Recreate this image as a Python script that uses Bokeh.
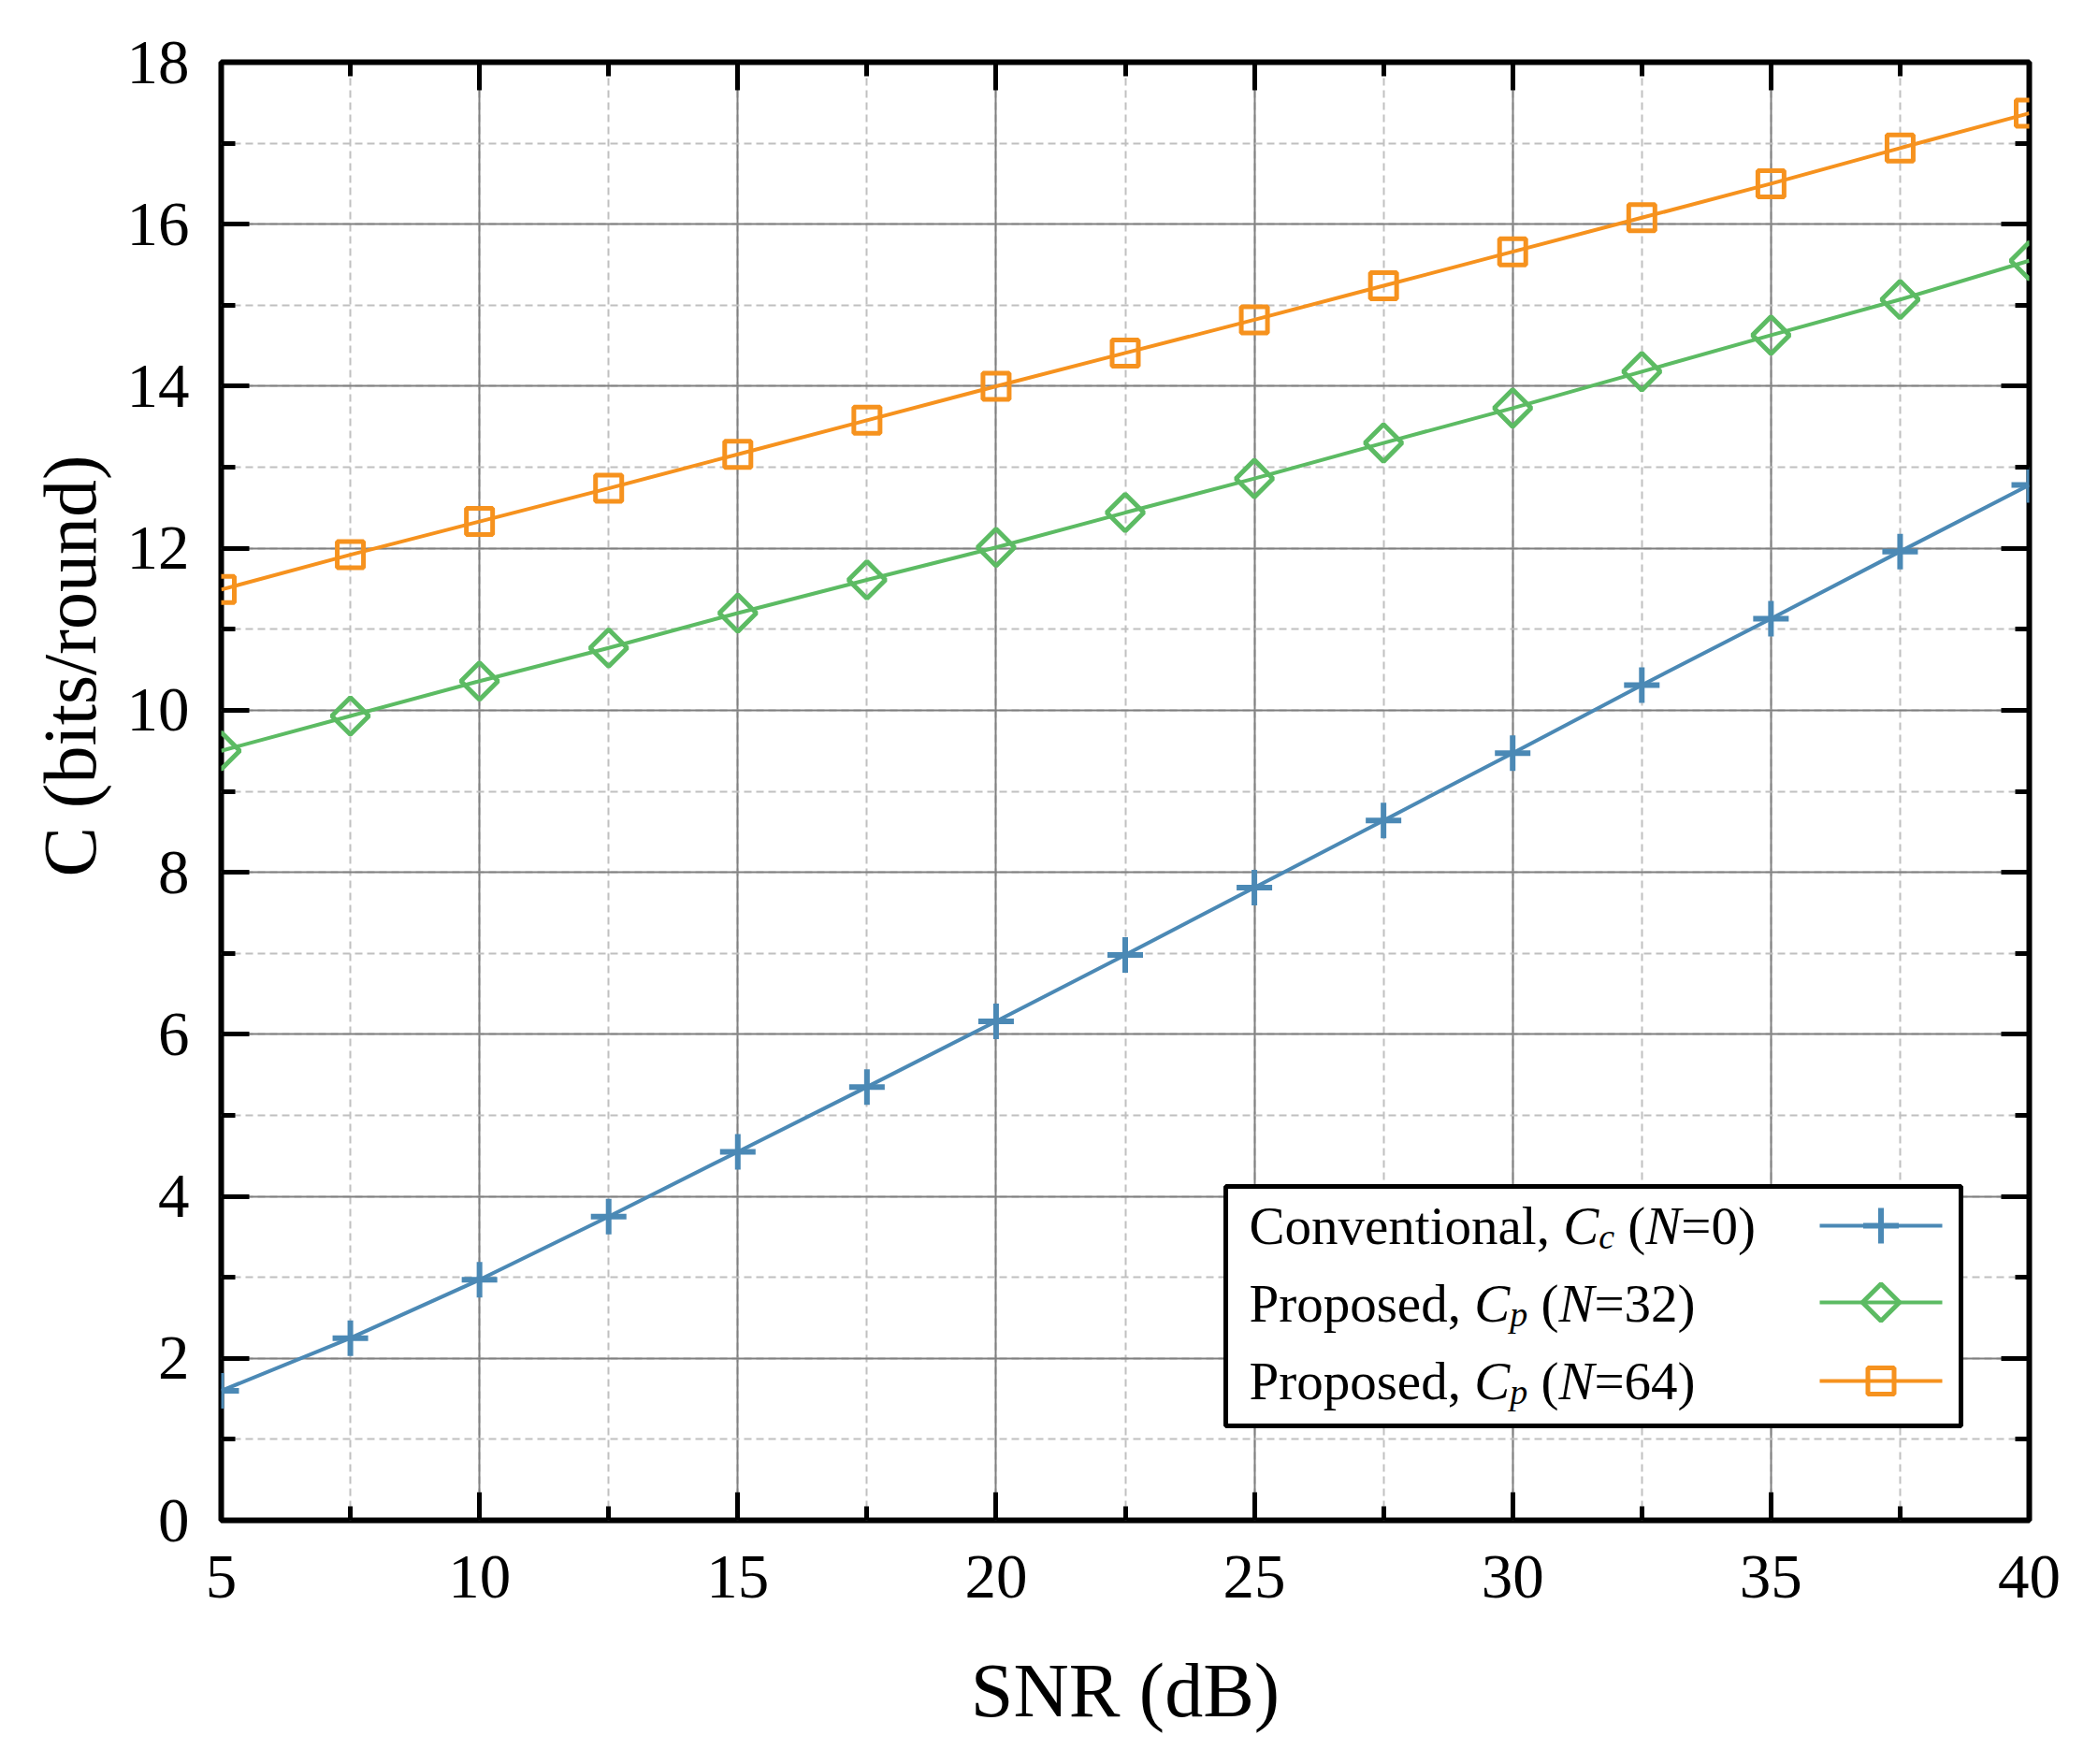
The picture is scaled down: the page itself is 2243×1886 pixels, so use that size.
import numpy as np
from bokeh.plotting import figure
from bokeh.models import (LinearAxis, SingleIntervalTicker, Range1d, Label, BoxAnnotation,
                          Title, CustomJSTickFormatter)
from bokeh.embed import file_html
from bokeh.resources import INLINE

# data
snr = [5, 7.5, 10, 12.5, 15, 17.5, 20, 22.5, 25, 27.5, 30, 32.5, 35, 37.5, 40]
cap_conv_n0 = [1.60, 2.25, 2.97, 3.75, 4.55, 5.35, 6.16, 6.98, 7.81, 8.64, 9.47, 10.31, 11.13, 11.96, 12.78]
cap_prop_n32 = [9.50, 9.93, 10.36, 10.77, 11.20, 11.61, 12.01, 12.44, 12.86, 13.30, 13.73, 14.18, 14.63, 15.07, 15.55]
cap_prop_n64 = [11.49, 11.92, 12.33, 12.74, 13.16, 13.58, 14.00, 14.41, 14.82, 15.24, 15.66, 16.08, 16.50, 16.94, 17.37]

BLUE = "#4b89b5"
GREEN = "#5cbb63"
ORANGE = "#f6921e"
FONT = "Liberation Serif"

X0, X1 = 5, 40
Y0, Y1 = 0, 18
FRAME_W, FRAME_H = 1933, 1559

# Times / Liberation Serif advance widths (per 1000 em)
ROMAN = {" ": 250, ",": 250, "(": 333, ")": 333, "=": 564, "/": 278,
         "C": 667, "N": 722, "P": 556, "a": 444, "b": 500, "c": 444, "d": 500, "e": 444,
         "i": 278, "l": 278, "n": 500, "o": 500, "p": 500, "r": 333, "s": 389, "t": 278,
         "u": 500, "v": 500}
ITALIC = {"C": 667, "N": 667, "c": 444, "p": 500}


def text_w(s, italic, size):
    tab = ITALIC if italic else ROMAN
    return sum(tab.get(ch, ROMAN.get(ch, 500)) for ch in s) * size / 1000.0


def sx2x(sx):
    return X0 + sx * (X1 - X0) / FRAME_W


def sy2y(sy):
    return Y0 + sy * (Y1 - Y0) / FRAME_H


p = figure(width=2227, height=1870, x_range=Range1d(X0, X1), y_range=Range1d(Y0, Y1),
           output_backend="svg", toolbar_location=None, tools="")
p.min_border_left = 236
p.min_border_right = 58
p.min_border_top = 66
p.min_border_bottom = 245
p.outline_line_color = "black"
p.outline_line_width = 6
p.background_fill_color = "white"
p.border_fill_color = "white"

xt = SingleIntervalTicker(interval=5, num_minor_ticks=2)
yt = SingleIntervalTicker(interval=2, num_minor_ticks=2)

for ax in [p.xaxis[0], p.yaxis[0]]:
    ax.axis_line_color = None
    ax.major_tick_in = 30
    ax.major_tick_out = 0
    ax.minor_tick_in = 15
    ax.minor_tick_out = 0
    ax.major_tick_line_width = 5
    ax.minor_tick_line_width = 5
    ax.major_tick_line_color = "black"
    ax.minor_tick_line_color = "black"
    ax.major_label_text_font = FONT
    ax.major_label_text_font_size = "67px"
    ax.major_label_text_color = "black"

p.xaxis.ticker = xt
p.yaxis.ticker = yt
p.xaxis.major_label_standoff = 38
p.yaxis.major_label_standoff = 34
p.xaxis.axis_label = "SNR (dB)"
p.xaxis.axis_label_text_font = FONT
p.xaxis.axis_label_text_font_style = "normal"
p.xaxis.axis_label_text_font_size = "82px"
p.xaxis.axis_label_text_color = "black"
p.xaxis.axis_label_standoff = 51

# y title placed along the left side, shifted up like the original
ytitle = Title(text="C (bits/round)", align="left", offset=688, standoff=27,
               text_font=FONT, text_font_size="80px", text_font_style="normal",
               text_color="black")
p.add_layout(ytitle, "left")

# mirrored ticks on top and right
blank = CustomJSTickFormatter(code="return ''")
for side, tk in [("above", xt), ("right", yt)]:
    ax = LinearAxis(ticker=tk, formatter=blank, axis_line_color=None,
                    major_tick_in=30, major_tick_out=0, minor_tick_in=15, minor_tick_out=0,
                    major_tick_line_width=5, minor_tick_line_width=5,
                    major_label_standoff=0)
    p.add_layout(ax, side)

# grids
for g in [p.xgrid[0], p.ygrid[0]]:
    g.grid_line_color = "#808080"
    g.grid_line_width = 2
    g.minor_grid_line_color = "#c0c0c0"
    g.minor_grid_line_width = 2
    g.minor_grid_line_dash = "8 5"
p.xgrid.ticker = xt
p.ygrid.ticker = yt

# legend frame (screen px relative to the plot frame, y upward), under the glyphs
box = BoxAnnotation(left=1074, right=1860, top=357, bottom=101,
                    left_units="screen", right_units="screen", top_units="screen", bottom_units="screen",
                    fill_color="white", fill_alpha=1.0, line_color="black", line_width=5, line_alpha=1.0,
                    level="underlay")
p.add_layout(box)

# series
styles = [
    dict(color=BLUE, marker="cross", size=38, lw=6, angle=0.0),
    dict(color=GREEN, marker="square", size=28, lw=5, angle=np.pi / 4),
    dict(color=ORANGE, marker="square", size=28, lw=5, angle=0.0),
]
series = [cap_conv_n0, cap_prop_n32, cap_prop_n64]

key_line = [1709, 1840]
key_mid = 1774.5
key_rows = [315, 233, 149]

for ys, st, ky in zip(series, styles, key_rows):
    p.line(snr, ys, line_color=st["color"], line_width=4)
    p.scatter(snr, ys, marker=st["marker"], size=st["size"], angle=st["angle"],
              line_color=st["color"], line_width=st["lw"], fill_color=None)
    # legend key
    yk = sy2y(ky)
    p.line([sx2x(key_line[0]), sx2x(key_line[1])], [yk, yk], line_color=st["color"], line_width=4)
    p.scatter([sx2x(key_mid)], [yk], marker=st["marker"], size=st["size"], angle=st["angle"],
              line_color=st["color"], line_width=st["lw"], fill_color=None)

# legend texts with italic symbols
LEG_SIZE = 57
SUB_SIZE = 38
legend_rows = [
    ("Conventional, ", "c", "0"),
    ("Proposed, ", "p", "32"),
    ("Proposed, ", "p", "64"),
]
row_base = [315, 232, 149]


def put(txt, x, y, italic, size):
    p.add_layout(Label(x=x, y=y, x_units="screen", y_units="screen", text=txt,
                       text_font=FONT, text_font_style="italic" if italic else "normal",
                       text_font_size=f"{size}px", text_color="black",
                       text_align="left", text_baseline="alphabetic"))


for (head, sub, nval), yb in zip(legend_rows, row_base):
    x = 1099
    put(head.strip(), x, yb, False, LEG_SIZE)
    x += text_w(head, False, LEG_SIZE)
    put("C", x, yb, True, LEG_SIZE)
    x += text_w("C", True, LEG_SIZE)
    put(sub, x, yb - 11, True, SUB_SIZE)
    x += text_w(sub, True, SUB_SIZE) + text_w(" ", False, LEG_SIZE)
    put("(", x, yb, False, LEG_SIZE)
    x += text_w("(", False, LEG_SIZE)
    put("N", x, yb, True, LEG_SIZE)
    x += text_w("N", True, LEG_SIZE)
    put("=" + nval + ")", x, yb, False, LEG_SIZE)

open("out.html", "w").write(file_html(p, INLINE))
